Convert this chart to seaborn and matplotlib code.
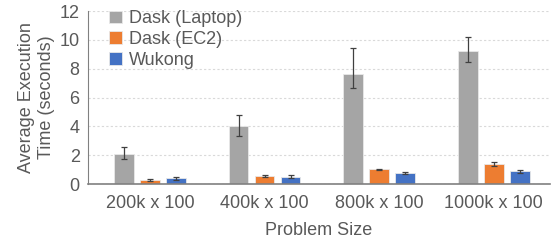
import matplotlib
matplotlib.use("Agg")
import matplotlib.pyplot as plt
import seaborn as sns
import pandas as pd

# === Data ===
sizes = ["200k x 100", "400k x 100", "800k x 100", "1000k x 100"]
systems = ["Dask (Laptop)", "Dask (EC2)", "Wukong"]
laptop = [2.1, 4.0, 7.6, 9.2]
laptop_lo = [0.35, 0.7, 0.94, 0.75]
laptop_hi = [0.5, 0.8, 1.84, 1.0]
ec2 = [0.27, 0.55, 1.03, 1.36]
ec2_lo = [0.05, 0.04, 0.04, 0.12]
ec2_hi = [0.05, 0.04, 0.04, 0.15]
wukong = [0.4, 0.52, 0.76, 0.88]
wukong_lo = [0.1, 0.1, 0.1, 0.09]
wukong_hi = [0.1, 0.1, 0.1, 0.1]

colors = ["#A5A5A5", "#ED7D31", "#4472C4"]
text_col = "#595959"

df = pd.DataFrame({
    "size": sizes * 3,
    "system": [s for s in systems for _ in sizes],
    "time": laptop + ec2 + wukong,
    "lo": laptop_lo + ec2_lo + wukong_lo,
    "hi": laptop_hi + ec2_hi + wukong_hi,
})

sns.set_style("white")
plt.rcParams["font.family"] = ["Liberation Sans", "DejaVu Sans"]

fig = plt.figure(figsize=(5.53, 2.43), dpi=100)
ax = fig.add_axes([88 / 553, 59 / 243, 462 / 553, 173 / 243])

sns.barplot(data=df, x="size", y="time", hue="system", order=sizes,
            hue_order=systems, palette=colors, width=0.68, errorbar=None,
            saturation=1, edgecolor="#E8E8E8", linewidth=0.6, ax=ax)

# narrow the bars so there are gaps inside each group, then add error bars
bar_w = 0.17
for container, sys_name in zip(ax.containers, systems):
    sub = df[df["system"] == sys_name].set_index("size").loc[sizes]
    xs = []
    for patch in container:
        cx = patch.get_x() + patch.get_width() / 2
        patch.set_x(cx - bar_w / 2)
        patch.set_width(bar_w)
        xs.append(cx)
    ax.errorbar(xs, sub["time"], yerr=[sub["lo"], sub["hi"]], fmt="none",
                ecolor="#404040", elinewidth=0.9, capsize=2.2, capthick=0.9,
                zorder=5)

ax.set_ylim(0, 12)
ax.set_yticks(range(0, 13, 2))
ax.set_xlim(-0.54, 3.49)
ax.yaxis.grid(True, color="#D9D9D9", linestyle=(0, (2, 2)), linewidth=0.8)
ax.set_axisbelow(True)

for side in ["top", "right"]:
    ax.spines[side].set_visible(False)
ax.spines["left"].set_color("#808080")
ax.spines["bottom"].set_color("#808080")
ax.spines["bottom"].set_linewidth(1.2)
ax.tick_params(axis="y", length=4, color="#808080", labelsize=13, labelcolor=text_col, pad=2)
ax.tick_params(axis="x", length=0, labelsize=13, labelcolor=text_col, pad=8)

ax.set_xlabel("Problem Size", fontsize=13, color=text_col, labelpad=7)
ax.set_ylabel("Average Execution\nTime (seconds)", fontsize=13, color=text_col,
              labelpad=3, linespacing=1.25)

leg = ax.legend(loc="upper left", bbox_to_anchor=(0.03, 1.045), frameon=False,
                fontsize=13, handlelength=0.7, handleheight=0.7, handletextpad=0.4,
                labelspacing=0.2, borderaxespad=0)
for t in leg.get_texts():
    t.set_color(text_col)

plt.savefig("out.png", dpi=100)
